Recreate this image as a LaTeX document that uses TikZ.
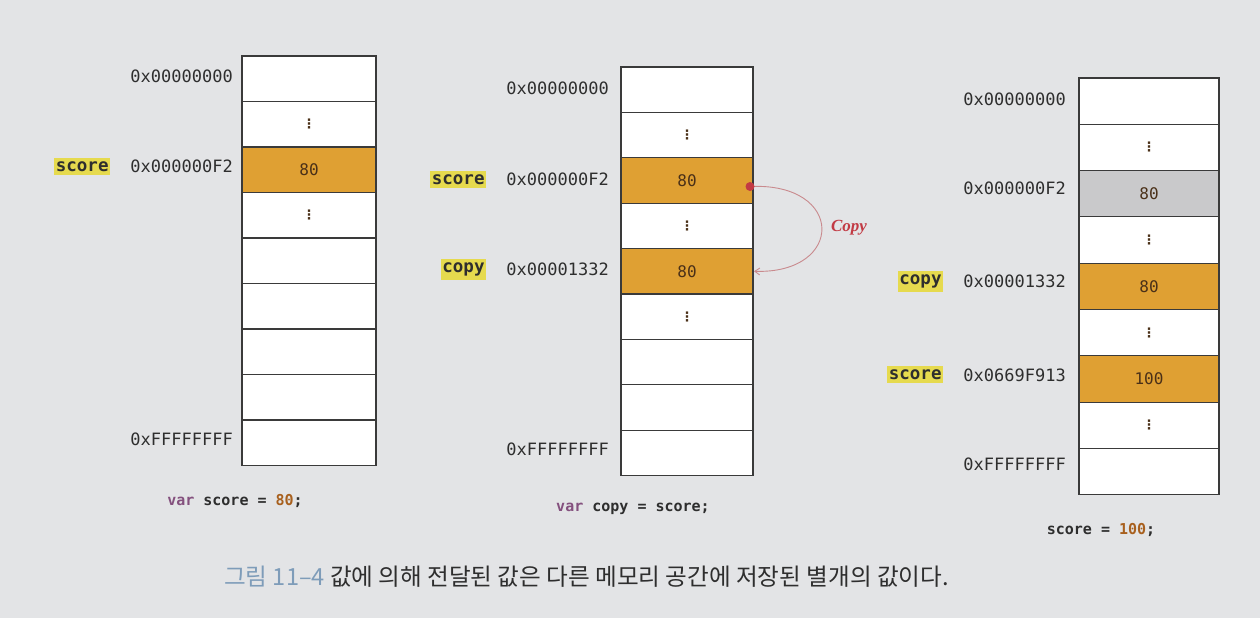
\documentclass[tikz,border=0pt]{standalone}
\usepackage{fontspec}
\setmonofont{DejaVu Sans Mono}
\newfontfamily\kr{Noto Sans CJK KR}
\newfontfamily\dvs{DejaVu Sans}
\newfontfamily\lserif{Liberation Serif}
\usetikzlibrary{arrows.meta}
\definecolor{bgc}{HTML}{E3E4E6}
\definecolor{orng}{HTML}{DFA033}
\definecolor{grayc}{HTML}{C9C9CB}
\definecolor{hl}{HTML}{E6DA4E}
\definecolor{linec}{HTML}{3A3A3A}
\definecolor{txt}{HTML}{2E2E2E}
\definecolor{celltxt}{HTML}{4A3018}
\definecolor{kwd}{HTML}{84507E}
\definecolor{num}{HTML}{A8601E}
\definecolor{copyred}{HTML}{C23A44}
\definecolor{arrowc}{HTML}{C98A8E}
\definecolor{capblue}{HTML}{7E9CB9}
\tikzset{
  cell/.style={draw=linec, line width=1.1pt, rectangle, anchor=north west, inner sep=0pt, outer sep=0pt,
    font=\ttfamily\fontsize{16}{16}\selectfont, text=celltxt},
  addr/.style={anchor=east, inner sep=0pt, font=\ttfamily\fontsize{17}{17}\selectfont, text=txt},
  vname/.style={anchor=east, fill=hl, inner xsep=1.5pt, inner ysep=3.5pt, font=\ttfamily\bfseries\fontsize{17.5}{17.5}\selectfont, text=txt},
  code/.style={inner sep=0pt, font=\ttfamily\bfseries\fontsize{15}{15}\selectfont, text=txt},
}
\newcommand{\vd}{{\dvs\bfseries\fontsize{13}{13}\selectfont ⋮}}
\begin{document}
\begin{tikzpicture}[x=1pt,y=-1pt]
\fill[bgc] (0,0) rectangle (1260,618);
\useasboundingbox (0,0) rectangle (1260,618);
% panel 1
\foreach \i/\t/\fc in {0//white,1/\vd/white,2/80/orng,3/\vd/white,4//white,5//white,6//white,7//white,8//white}
  \node[cell, fill=\fc, minimum width=134pt, minimum height=45.5pt] (p1c\i) at (242,{56+\i*45.5}) {\t};
% panel 2
\foreach \i/\t/\fc in {0//white,1/\vd/white,2/80/orng,3/\vd/white,4/80/orng,5/\vd/white,6//white,7//white,8//white}
  \node[cell, fill=\fc, minimum width=132pt, minimum height=45.4pt] (p2c\i) at (621,{67+\i*45.4}) {\t};
% panel 3
\foreach \i/\t/\fc in {0//white,1/\vd/white,2/80/grayc,3/\vd/white,4/80/orng,5/\vd/white,6/100/orng,7/\vd/white,8//white}
  \node[cell, fill=\fc, minimum width=140pt, minimum height=46.3pt] (p3c\i) at (1079,{78+\i*46.3}) {\t};

% addresses panel 1
\node[addr] (a10) at ([xshift=-9pt,yshift=2pt]p1c0.west) {0x00000000};
\node[addr] (a12) at ([xshift=-9pt,yshift=3pt]p1c2.west) {0x000000F2};
\node[addr] (a18) at ([xshift=-9pt,yshift=3pt]p1c8.west) {0xFFFFFFFF};
\node[vname] (n1s) at ([xshift=-20pt]a12.west) {score};
% addresses panel 2
\node[addr] (a20) at ([xshift=-12pt,yshift=1pt]p2c0.west) {0x00000000};
\node[addr] (a22) at ([xshift=-12pt,yshift=1pt]p2c2.west) {0x000000F2};
\node[addr] (a24) at ([xshift=-12pt,yshift=2pt]p2c4.west) {0x00001332};
\node[addr] (a28) at ([xshift=-12pt,yshift=4pt]p2c8.west) {0xFFFFFFFF};
\node[vname] (n2s) at ([xshift=-20pt]a22.west) {score};
\node[vname] (n2c) at ([xshift=-20pt]a24.west) {copy};
% addresses panel 3
\node[addr] (a30) at ([xshift=-13pt,yshift=2pt]p3c0.west) {0x00000000};
\node[addr] (a32) at ([xshift=-13pt,yshift=5pt]p3c2.west) {0x000000F2};
\node[addr] (a34) at ([xshift=-13pt,yshift=5pt]p3c4.west) {0x00001332};
\node[addr] (a36) at ([xshift=-13pt,yshift=4pt]p3c6.west) {0x0669F913};
\node[addr] (a38) at ([xshift=-13pt,yshift=7pt]p3c8.west) {0xFFFFFFFF};
\node[vname] (n3c) at ([xshift=-20pt]a34.west) {copy};
\node[vname] (n3s) at ([xshift=-20pt]a36.west) {score};

% copy arrow
\coordinate (cs) at ([xshift=-3pt,yshift=-6pt]p2c2.east);
\draw[arrowc, line width=0.9pt, -{Straight Barb[length=5pt,width=7pt]}] (cs) .. controls (845,182) and (845,274) .. ([xshift=1pt]p2c4.east);
\fill[copyred] (cs) circle (4.5pt);
\node[font=\lserif\itshape\bfseries\fontsize{17}{17}\selectfont, text=copyred] (cp) at (849,228) {Copy};

% code lines
\node[code] (c1) at (235,501) {\textcolor{kwd}{var} score = \textcolor{num}{80};};
\node[code] (c2) at (633,509) {\textcolor{kwd}{var} copy = score;};
\node[code] (c3) at (1101,530) {score = \textcolor{num}{100};};

% caption
\node[anchor=west, inner sep=0pt, font=\kr\fontsize{23.6}{23.6}\selectfont, text=txt] (cap) at (224,577)
  {\textcolor{capblue}{그림 11–4} 값에 의해 전달된 값은 다른 메모리 공간에 저장된 별개의 값이다.};
\end{tikzpicture}
\end{document}
